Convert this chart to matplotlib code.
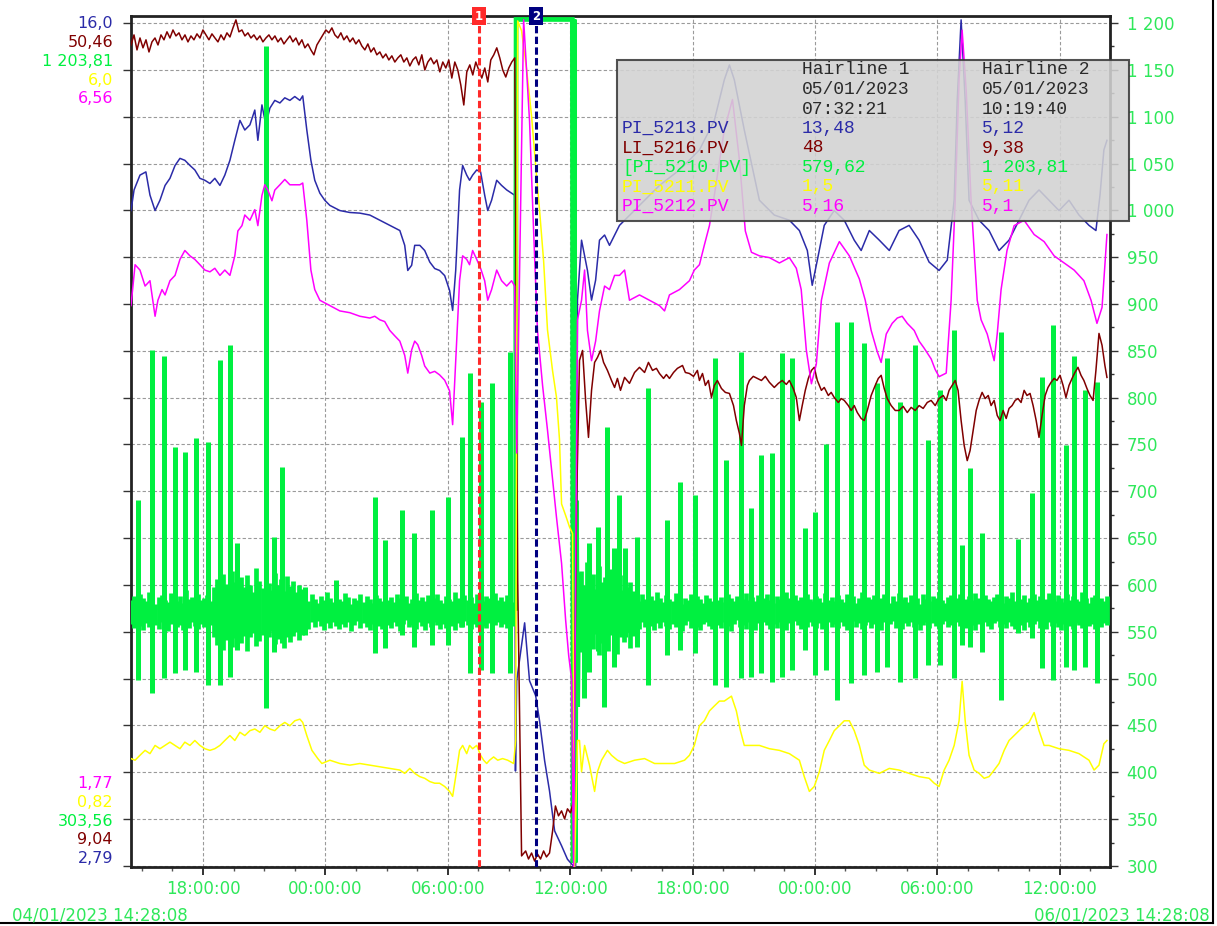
import numpy as np
import matplotlib
matplotlib.use("Agg")
import matplotlib.pyplot as plt
import matplotlib.dates as mdates
from matplotlib.ticker import MultipleLocator, FuncFormatter
from matplotlib.patches import Rectangle
from matplotlib.lines import Line2D
from datetime import datetime

# trend window 04/01/2023 14:28:08 -> 06/01/2023 14:28:08, times are hours from start
start = datetime(2023, 1, 4, 14, 28, 8)
span_h = 48.0
hair_h = [17.0703, 19.8592]          # 05/01/2023 07:32:21 and 10:19:40
hair_labels = ["1", "2"]

# pen scales (low, high)
blue_range = (2.79, 16.0)
red_range = (9.04, 50.46)
yellow_range = (0.82, 6.0)
magenta_range = (1.77, 6.56)
green_axis = (298.9, 1207.5)

# ---- PI_5213.PV
blue_h = [0.00, 0.15, 0.44, 0.73, 0.93, 1.18, 1.42, 1.67, 1.91, 2.16,
          2.40, 2.64, 2.89, 3.13, 3.38, 3.62, 3.87, 4.11, 4.36, 4.60,
          4.85, 5.09, 5.34, 5.58, 5.83, 6.07, 6.22, 6.42, 6.61, 6.81,
          7.05, 7.30, 7.54, 7.79, 8.03, 8.28, 8.42, 8.62, 8.82, 9.01,
          9.26, 9.50, 9.75, 10.24, 10.73, 11.22, 11.71, 12.20, 12.69, 13.18,
          13.42, 13.57, 13.76, 13.91, 14.16, 14.40, 14.65, 14.89, 15.13, 15.38,
          15.62, 15.77, 15.92, 16.11, 16.26, 16.46, 16.60, 16.75, 16.95, 17.14,
          17.34, 17.49, 17.68, 17.93, 18.17, 18.42, 18.80, 18.85, 18.91, 19.30,
          19.54, 19.84, 20.03, 20.28, 20.52, 20.77, 21.11, 21.40, 21.65, 21.80,
          21.89, 22.09, 22.38, 22.58, 22.78, 22.97, 23.22, 23.46, 23.71, 23.95,
          24.93, 25.91, 26.89, 27.87, 28.60, 29.09, 29.34, 29.58, 30.07, 30.81,
          31.54, 32.28, 32.77, 33.16, 33.40, 33.65, 33.99, 34.48, 34.97, 35.46,
          35.80, 36.20, 36.69, 37.18, 37.66, 38.15, 38.64, 39.13, 39.62, 40.02,
          40.36, 40.51, 40.70, 40.90, 41.09, 41.58, 42.07, 42.56, 43.05, 43.54,
          44.03, 44.52, 45.01, 45.50, 45.99, 46.48, 46.97, 47.31, 47.51, 47.70,
          47.85]
blue_v = [12.98, 13.30, 13.53, 13.58, 13.22, 12.98, 13.14, 13.37, 13.48, 13.68,
          13.79, 13.76, 13.68, 13.61, 13.48, 13.45, 13.40, 13.48, 13.37, 13.53,
          13.76, 14.07, 14.38, 14.23, 14.31, 14.54, 14.07, 14.62, 14.31, 14.57,
          14.69, 14.65, 14.73, 14.69, 14.75, 14.69, 14.76, 14.23, 13.76, 13.45,
          13.25, 13.14, 13.06, 12.98, 12.95, 12.94, 12.91, 12.83, 12.75, 12.67,
          12.44, 12.05, 12.13, 12.44, 12.44, 12.36, 12.18, 12.08, 12.05, 11.97,
          11.74, 11.43, 12.05, 13.30, 13.68, 13.53, 13.45, 13.53, 13.61, 13.58,
          13.22, 12.98, 13.14, 13.45, 13.37, 13.30, 13.22, 4.28, 5.68, 6.58,
          5.68, 5.45, 5.06, 4.44, 3.97, 3.35, 3.12, 2.91, 2.82, 2.79,
          11.59, 12.52, 12.05, 11.59, 11.90, 12.52, 12.60, 12.44, 12.60, 12.75,
          13.06, 13.37, 13.61, 13.92, 14.38, 15.01, 15.24, 15.01, 14.23, 13.14,
          12.91, 12.83, 12.67, 12.36, 11.82, 12.21, 12.75, 12.98, 12.83, 12.52,
          12.36, 12.67, 12.52, 12.36, 12.67, 12.75, 12.52, 12.18, 12.05, 12.21,
          13.14, 14.69, 15.94, 14.69, 13.14, 12.83, 12.67, 12.36, 12.52, 12.83,
          13.14, 13.30, 13.14, 12.98, 13.14, 12.91, 12.75, 12.67, 13.22, 13.92,
          14.07]

# ---- LI_5216.PV : first part logged every 0.147 h, then irregular
red_step = 0.147
red_a = [49.05, 49.54, 48.81, 49.39, 48.91, 49.30, 48.71, 49.20, 49.39, 49.05,
         49.54, 49.30, 49.69, 49.39, 49.78, 49.49, 49.64, 49.30, 49.54, 49.20,
         49.49, 49.30, 49.59, 49.39, 49.78, 49.54, 49.30, 49.59, 49.39, 49.20,
         49.54, 49.30, 49.64, 49.44, 49.88, 50.27, 49.69, 49.78, 49.49, 49.64,
         49.39, 49.54, 49.30, 49.49, 49.20, 49.39, 49.54, 49.30, 49.49, 49.20,
         49.39, 49.10, 49.30, 49.49, 49.20, 49.39, 49.05, 49.30, 48.91, 49.10,
         48.81, 48.57, 49.05, 49.30, 49.54, 49.78, 49.64, 49.88, 49.54, 49.39,
         49.64, 49.30, 49.49, 49.20, 49.39, 49.10, 49.30, 49.00, 48.81, 49.10,
         48.71, 48.91, 48.57, 48.71, 48.42, 48.61, 48.32, 48.52, 48.22, 48.42,
         48.57, 48.22, 48.42, 48.03, 48.32, 48.47, 48.08, 48.57, 47.83, 48.22,
         48.42, 48.13, 48.32, 47.74, 48.22, 47.93, 48.32, 47.44, 48.22, 47.83,
         47.10, 46.13, 47.74, 48.08, 47.59, 48.22, 47.83, 47.44, 47.93, 47.25,
         48.32, 48.57, 48.91, 48.42, 47.83, 47.49, 47.93, 48.22, 48.42]
red_b_h = [18.96, 19.15, 19.35, 19.49, 19.64, 19.79, 19.93, 20.08, 20.23, 20.37,
           20.52, 20.67, 20.81, 20.96, 21.11, 21.26, 21.40, 21.55, 21.70, 21.85,
           21.99, 22.14, 22.29, 22.43, 22.58, 22.73, 22.87, 23.02, 23.17, 23.36,
           23.56, 23.71, 23.85, 24.00, 24.20, 24.44, 24.69, 24.93, 25.18, 25.37,
           25.57, 25.76, 25.91, 26.11, 26.25, 26.40, 26.60, 26.79, 27.04, 27.18,
           27.38, 27.58, 27.77, 27.87, 28.02, 28.16, 28.31, 28.46, 28.60, 28.75,
           28.95, 29.14, 29.34, 29.54, 29.68, 29.83, 29.93, 30.07, 30.22, 30.32,
           30.51, 30.71, 30.91, 31.10, 31.30, 31.54, 31.74, 31.93, 32.13, 32.28,
           32.47, 32.62, 32.77, 32.91, 33.06, 33.21, 33.36, 33.50, 33.65, 33.85,
           33.99, 34.19, 34.33, 34.48, 34.68, 34.82, 34.97, 35.17, 35.31, 35.46,
           35.61, 35.80, 35.95, 36.10, 36.29, 36.49, 36.64, 36.78, 36.93, 37.08,
           37.27, 37.47, 37.66, 37.86, 38.06, 38.25, 38.45, 38.64, 38.84, 39.04,
           39.23, 39.43, 39.62, 39.82, 39.97, 40.11, 40.26, 40.41, 40.55, 40.70,
           40.85, 41.00, 41.14, 41.29, 41.44, 41.58, 41.73, 41.88, 42.03, 42.17,
           42.32, 42.47, 42.61, 42.76, 42.91, 43.05, 43.20, 43.35, 43.49, 43.64,
           43.79, 43.93, 44.08, 44.23, 44.38, 44.52, 44.67, 44.82, 44.96, 45.11,
           45.26, 45.40, 45.55, 45.70, 45.84, 45.99, 46.14, 46.28, 46.43, 46.58,
           46.72, 46.87, 47.02, 47.17, 47.31, 47.46, 47.61, 47.75, 47.85]
red_b_v = [22.98, 9.58, 9.82, 9.43, 9.72, 9.33, 9.67, 9.43, 9.82, 9.53,
           9.72, 10.79, 12.01, 11.53, 11.77, 11.38, 11.87, 11.67, 12.26, 26.88,
           33.70, 34.18, 31.75, 29.95, 32.24, 33.60, 33.84, 34.18, 33.60, 33.21,
           32.72, 32.38, 32.82, 32.24, 32.87, 32.58, 33.11, 33.36, 33.11, 33.60,
           33.21, 33.31, 33.06, 32.82, 33.01, 32.82, 33.11, 33.31, 33.45, 33.11,
           33.06, 32.92, 33.21, 32.72, 33.06, 32.48, 32.72, 31.89, 32.48, 32.72,
           32.33, 32.14, 32.09, 31.50, 30.77, 30.14, 29.56, 31.50, 32.48, 32.72,
           32.92, 32.82, 32.72, 32.92, 32.63, 32.38, 32.58, 32.72, 32.53, 32.72,
           32.33, 31.89, 30.77, 31.50, 32.24, 32.82, 33.21, 33.36, 32.72, 32.24,
           32.38, 31.99, 32.14, 31.89, 31.65, 31.84, 31.75, 31.50, 31.26, 31.50,
           31.16, 30.87, 30.77, 31.26, 31.99, 32.48, 32.82, 32.97, 32.33, 31.84,
           31.50, 31.26, 31.26, 31.46, 31.16, 31.41, 31.26, 31.50, 31.36, 31.65,
           31.75, 31.50, 31.84, 31.99, 31.75, 32.24, 32.48, 32.72, 32.24, 30.77,
           29.56, 28.82, 29.31, 30.29, 31.26, 31.75, 32.14, 31.84, 31.99, 31.50,
           31.75, 31.02, 30.77, 31.26, 30.87, 31.36, 31.50, 31.75, 31.84, 31.65,
           32.24, 31.99, 32.09, 31.50, 30.77, 29.95, 31.02, 31.99, 32.38, 32.63,
           32.82, 32.72, 32.97, 32.48, 31.89, 32.48, 32.82, 33.11, 33.36, 32.97,
           32.72, 32.33, 31.99, 31.75, 33.21, 35.01, 34.43, 33.45, 32.87]

# ---- [PI_5210.PV] : min / max of each 0.15 h interval, plus spikes
green_step = 0.15
green_a_t0 = 0.0
green_a_hi = [584, 588, 581, 590, 586, 583, 592, 585, 580, 587, 589, 584, 582, 591, 586, 583, 588, 581,
              595, 585, 587, 582, 590, 584, 586, 589, 583,
              598, 606, 592, 612, 601, 596, 615, 603, 594, 608, 598, 611, 600, 593, 618, 604, 597, 609,
              602, 595, 613, 600, 606, 594, 610, 599, 604, 592, 600, 596,
              587, 583, 590, 585, 581, 588, 584, 592, 586, 582, 589, 585, 583, 591, 587, 580, 586, 584,
              590, 582, 588, 585, 581, 589, 586, 583, 592, 584, 587, 582, 590, 586, 583, 588, 581, 585,
              591, 584, 587, 583, 589, 582, 586, 590, 584, 581, 588, 585, 583, 592, 586, 582, 589, 584,
              587, 581, 590, 585, 583, 588, 586, 582, 591, 584, 587, 583, 589, 585, 582]
green_a_lo = [558, 554, 561, 556, 552, 559, 555, 562, 557, 553, 560, 556, 551, 558, 563, 555, 557, 552,
              559, 554, 561, 556, 553, 558, 555, 560, 557,
              545, 536, 550, 531, 541, 548, 534, 543, 552, 538, 546, 530, 544, 549, 535, 540, 547, 532,
              545, 551, 537, 542, 548, 533, 544, 539, 546, 550, 541, 547,
              557, 553, 560, 555, 562, 556, 552, 559, 554, 561, 556, 553, 558, 555, 560, 551, 557, 562,
              554, 559, 555, 552, 558, 561, 556, 553, 559, 557, 554, 560, 556, 551, 558, 563, 555, 557,
              553, 560, 556, 552, 559, 555, 561, 557, 553, 558, 554, 560, 556, 552, 559, 555, 562, 557,
              553, 558, 555, 561, 556, 554, 559, 553, 557, 561, 555, 558, 554, 560, 556]
green_b_t0 = 22.05
green_b_hi = [615, 598, 625, 605, 612, 596, 620, 603, 608, 599, 617, 601, 606, 595, 611, 598, 603, 594,
              587, 583, 590, 585, 581, 588, 584, 592, 586, 582, 589, 585, 583, 591, 587, 580, 586, 584,
              590, 582, 588, 585, 581, 589, 586, 583, 592, 584, 587, 582, 590, 586, 583, 588, 581, 585,
              591, 584, 587, 583, 589, 582, 586, 590, 584, 581, 588, 585, 583, 592, 586, 582, 589, 584,
              587, 581, 590, 585, 583, 588, 586, 582, 591, 584, 587, 583, 589, 585, 582, 590, 584, 588,
              581, 586, 592, 583, 587, 585, 589, 582, 586, 590, 584, 581, 588, 583, 591, 585, 587, 582,
              589, 584, 586, 580, 590, 585, 583, 588, 586, 592, 584, 581, 587, 589, 583, 586, 590, 582,
              585, 588, 584, 591, 586, 582, 589, 585, 583, 587, 590, 584, 581, 588, 586, 592, 583, 587,
              585, 589, 582, 586, 590, 584, 588, 581, 585, 591, 587, 583, 589, 586, 582, 590, 584, 588,
              585, 583, 592, 586, 581, 587, 589, 584, 586, 583, 588]
green_b_lo = [528, 545, 520, 540, 532, 548, 525, 538, 543, 530, 547, 535, 526, 544, 539, 550, 533, 546,
              557, 553, 560, 555, 562, 556, 552, 559, 554, 561, 556, 553, 558, 555, 560, 551, 557, 562,
              554, 559, 555, 552, 558, 561, 556, 553, 559, 557, 554, 560, 556, 551, 558, 563, 555, 557,
              553, 560, 556, 552, 559, 555, 561, 557, 553, 558, 554, 560, 556, 552, 559, 555, 562, 557,
              553, 558, 555, 561, 556, 554, 559, 553, 557, 561, 555, 558, 554, 560, 556, 552, 558, 562,
              555, 559, 553, 557, 561, 554, 558, 556, 552, 560, 555, 558, 562, 554, 557, 553, 559, 556,
              561, 555, 558, 552, 557, 560, 554, 559, 556, 553, 558, 562, 555, 557, 553, 560, 556, 559,
              554, 561, 557, 552, 558, 555, 560, 556, 553, 559, 562, 555, 558, 554, 561, 556, 553, 559,
              557, 552, 560, 555, 558, 562, 554, 557, 553, 560, 556, 559, 555, 552, 558, 561, 556, 553,
              559, 557, 554, 560, 556, 558, 553, 561, 555, 559, 557]
block_h = [18.86, 18.88, 21.64, 21.68, 21.73, 21.78, 21.84, 21.90, 21.96]
block_v = [575, 1203.8, 1203.8, 303.6, 1203.8, 303.6, 690, 470, 610]
spike_h = [0.34, 1.03, 1.62, 2.16, 2.64, 3.18, 3.77, 4.36, 4.85, 5.19,
           6.61, 7.00, 7.40, 8.52, 10.04, 11.95, 12.44, 13.27, 13.86, 14.74,
           15.53, 16.21, 16.60, 17.14, 17.68, 18.56, 22.19, 22.48, 22.92, 23.17,
           23.36, 23.66, 23.95, 24.24, 24.83, 25.37, 26.30, 26.94, 27.67, 28.65,
           29.19, 29.93, 30.42, 30.91, 31.44, 31.93, 32.42, 33.06, 33.55, 34.09,
           34.63, 35.31, 35.95, 36.59, 37.08, 37.71, 38.45, 39.09, 39.67, 40.36,
           40.75, 41.14, 41.73, 42.66, 43.49, 44.18, 44.67, 45.21, 45.84, 46.24,
           46.78, 47.36]
spike_top = [691, 851, 845, 747, 742, 757, 753, 840, 856, 645,
             1176, 651, 726, 598, 605, 694, 648, 680, 656, 680,
             694, 758, 826, 795, 816, 849, 600, 645, 662, 590,
             769, 640, 696, 640, 651, 810, 669, 710, 696, 842,
             733, 849, 682, 739, 741, 848, 842, 661, 678, 751,
             881, 881, 858, 816, 842, 795, 856, 755, 808, 872,
             643, 725, 655, 870, 649, 698, 822, 878, 749, 844,
             808, 817]
spike_bot = [499, 485, 501, 506, 509, 507, 493, 493, 502, 531,
             469, 528, 538, 547, 563, 527, 533, 547, 534, 536,
             536, 555, 506, 509, 506, 506, 479, 507, 530, 470,
             540, 512, 549, 545, 534, 493, 525, 531, 527, 493,
             491, 501, 502, 506, 496, 502, 509, 531, 504, 509,
             477, 495, 504, 507, 512, 496, 501, 515, 515, 501,
             536, 534, 528, 477, 549, 543, 511, 499, 512, 509,
             512, 495]

# ---- PI_5211.PV
yel_h = [0.00, 0.20, 0.44, 0.69, 0.93, 1.18, 1.42, 1.67, 1.91, 2.16,
         2.40, 2.64, 2.89, 3.13, 3.38, 3.62, 3.87, 4.11, 4.36, 4.60,
         4.85, 5.09, 5.34, 5.58, 5.83, 6.07, 6.32, 6.56, 6.81, 7.05,
         7.30, 7.54, 7.79, 8.03, 8.28, 8.42, 8.62, 8.87, 9.16, 9.36,
         9.75, 10.24, 10.73, 11.22, 11.71, 12.20, 12.69, 13.18, 13.42, 13.67,
         13.91, 14.16, 14.40, 14.65, 14.89, 15.13, 15.38, 15.62, 15.77, 15.92,
         16.11, 16.26, 16.46, 16.60, 16.75, 16.95, 17.14, 17.29, 17.44, 17.58,
         17.78, 17.98, 18.22, 18.47, 18.76, 18.86, 18.96, 19.15, 19.40, 19.64,
         19.84, 20.03, 20.23, 20.42, 20.67, 20.86, 21.01, 21.11, 21.31, 21.50,
         21.65, 21.75, 21.89, 21.99, 22.09, 22.24, 22.48, 22.73, 22.87, 23.07,
         23.36, 23.56, 23.85, 24.20, 24.69, 25.18, 25.67, 26.16, 26.65, 27.14,
         27.38, 27.62, 27.87, 28.11, 28.36, 28.60, 28.85, 29.09, 29.44, 29.68,
         29.88, 30.07, 30.32, 30.81, 31.30, 31.79, 32.28, 32.77, 33.01, 33.26,
         33.50, 33.75, 33.99, 34.24, 34.48, 34.73, 34.97, 35.22, 35.46, 35.71,
         35.95, 36.20, 36.69, 37.18, 37.66, 38.15, 38.64, 39.13, 39.38, 39.62,
         39.87, 40.11, 40.36, 40.60, 40.75, 40.90, 41.09, 41.34, 41.58, 41.83,
         42.07, 42.32, 42.56, 42.81, 43.05, 43.54, 43.79, 44.03, 44.28, 44.52,
         44.77, 45.01, 45.50, 45.99, 46.48, 46.97, 47.22, 47.46, 47.70, 47.85]
yel_v = [1.48, 1.47, 1.50, 1.53, 1.51, 1.56, 1.54, 1.56, 1.58, 1.56,
         1.54, 1.58, 1.56, 1.59, 1.56, 1.54, 1.53, 1.54, 1.56, 1.59,
         1.62, 1.59, 1.64, 1.62, 1.65, 1.66, 1.64, 1.68, 1.66, 1.65,
         1.68, 1.70, 1.68, 1.71, 1.72, 1.70, 1.62, 1.53, 1.48, 1.45,
         1.47, 1.45, 1.44, 1.45, 1.44, 1.43, 1.42, 1.41, 1.39, 1.42,
         1.39, 1.37, 1.36, 1.34, 1.33, 1.33, 1.31, 1.28, 1.25, 1.37,
         1.53, 1.56, 1.51, 1.56, 1.54, 1.56, 1.50, 1.47, 1.45, 1.47,
         1.49, 1.47, 1.48, 1.47, 1.45, 1.59, 5.97, 5.91, 5.67, 5.39,
         5.09, 4.82, 4.51, 4.09, 3.84, 3.68, 3.42, 3.03, 2.96, 2.89,
         2.85, 0.82, 1.59, 1.59, 1.40, 1.56, 1.44, 1.28, 1.40, 1.47,
         1.53, 1.50, 1.47, 1.45, 1.47, 1.48, 1.45, 1.45, 1.45, 1.47,
         1.50, 1.56, 1.68, 1.71, 1.77, 1.80, 1.83, 1.83, 1.86, 1.77,
         1.65, 1.56, 1.56, 1.56, 1.54, 1.53, 1.51, 1.47, 1.37, 1.28,
         1.31, 1.40, 1.53, 1.59, 1.65, 1.68, 1.71, 1.71, 1.65, 1.56,
         1.44, 1.41, 1.39, 1.42, 1.41, 1.39, 1.37, 1.36, 1.33, 1.31,
         1.41, 1.47, 1.56, 1.71, 1.95, 1.71, 1.50, 1.41, 1.39, 1.36,
         1.37, 1.41, 1.45, 1.53, 1.59, 1.65, 1.68, 1.70, 1.76, 1.65,
         1.56, 1.56, 1.54, 1.53, 1.51, 1.47, 1.41, 1.44, 1.57, 1.59]

# ---- PI_5212.PV
mag_h = [0.00, 0.20, 0.44, 0.69, 0.93, 1.18, 1.32, 1.52, 1.67, 1.91,
         2.16, 2.40, 2.64, 2.89, 3.13, 3.38, 3.62, 3.87, 4.11, 4.36,
         4.60, 4.85, 5.09, 5.24, 5.44, 5.58, 5.83, 6.07, 6.22, 6.42,
         6.56, 6.71, 6.91, 7.05, 7.30, 7.54, 7.79, 8.03, 8.28, 8.42,
         8.62, 8.82, 9.01, 9.26, 9.75, 10.24, 10.73, 11.22, 11.71, 11.95,
         12.20, 12.44, 12.69, 12.93, 13.18, 13.42, 13.57, 13.76, 13.91, 14.06,
         14.25, 14.40, 14.65, 14.89, 15.13, 15.38, 15.62, 15.77, 15.92, 16.11,
         16.26, 16.46, 16.60, 16.75, 16.95, 17.14, 17.34, 17.49, 17.68, 17.93,
         18.17, 18.42, 18.66, 18.81, 18.91, 19.25, 19.54, 19.74, 19.93, 20.18,
         20.42, 20.67, 20.86, 21.11, 21.31, 21.46, 21.60, 21.70, 21.89, 22.09,
         22.24, 22.38, 22.58, 22.78, 22.97, 23.22, 23.46, 23.71, 23.95, 24.20,
         24.44, 24.93, 25.42, 25.91, 26.16, 26.40, 26.89, 27.38, 27.62, 27.87,
         28.11, 28.36, 28.60, 29.09, 29.49, 29.83, 30.12, 30.42, 30.81, 31.30,
         31.79, 32.28, 32.62, 32.86, 33.11, 33.36, 33.60, 33.85, 34.24, 34.73,
         35.22, 35.71, 36.00, 36.29, 36.59, 36.78, 37.03, 37.32, 37.57, 37.81,
         38.06, 38.40, 38.64, 38.89, 39.23, 39.43, 39.62, 39.97, 40.21, 40.41,
         40.60, 40.75, 40.95, 41.19, 41.49, 41.68, 41.98, 42.32, 42.47, 42.66,
         42.95, 43.30, 43.79, 44.28, 44.77, 45.26, 45.75, 46.24, 46.72, 47.07,
         47.36, 47.61, 47.75, 47.85]
mag_v = [4.93, 5.16, 5.13, 5.04, 5.07, 4.87, 4.96, 5.02, 4.99, 5.07,
         5.10, 5.19, 5.24, 5.21, 5.19, 5.16, 5.13, 5.12, 5.14, 5.10,
         5.13, 5.10, 5.21, 5.35, 5.38, 5.44, 5.41, 5.47, 5.38, 5.55,
         5.61, 5.58, 5.52, 5.58, 5.61, 5.64, 5.61, 5.61, 5.61, 5.62,
         5.41, 5.13, 5.02, 4.96, 4.93, 4.90, 4.89, 4.87, 4.86, 4.87,
         4.85, 4.84, 4.79, 4.76, 4.73, 4.65, 4.55, 4.68, 4.73, 4.71,
         4.65, 4.59, 4.55, 4.56, 4.54, 4.51, 4.45, 4.26, 4.62, 5.07,
         5.21, 5.19, 5.16, 5.24, 5.19, 5.14, 5.07, 4.96, 5.02, 5.13,
         5.07, 5.04, 5.07, 5.04, 4.10, 6.54, 5.97, 5.35, 4.79, 4.48,
         4.23, 3.95, 3.74, 3.48, 3.16, 2.96, 2.83, 1.77, 4.85, 4.96,
         5.13, 4.79, 4.62, 4.73, 4.90, 5.04, 5.02, 5.10, 5.10, 5.13,
         4.96, 4.99, 4.96, 4.93, 4.90, 4.99, 5.02, 5.07, 5.13, 5.16,
         5.27, 5.38, 5.55, 5.92, 6.09, 5.75, 5.35, 5.23, 5.21, 5.20,
         5.17, 5.20, 5.14, 5.02, 4.68, 4.49, 4.60, 4.96, 5.17, 5.29,
         5.21, 5.08, 4.96, 4.79, 4.67, 4.61, 4.77, 4.83, 4.86, 4.87,
         4.83, 4.79, 4.73, 4.69, 4.63, 4.57, 4.53, 4.55, 4.96, 5.52,
         6.20, 6.48, 6.14, 5.52, 4.96, 4.85, 4.77, 4.62, 4.77, 5.02,
         5.24, 5.38, 5.41, 5.33, 5.29, 5.21, 5.17, 5.13, 5.07, 4.96,
         4.83, 4.92, 5.16, 5.33]

# ---- hairline readout box
legend_rows = [
    ("", "Hairline 1", "Hairline 2"),
    ("", "05/01/2023", "05/01/2023"),
    ("", "07:32:21", "10:19:40"),
    ("PI_5213.PV", "13,48", "5,12"),
    ("LI_5216.PV", "48", "9,38"),
    ("[PI_5210.PV]", "579,62", "1 203,81"),
    ("PI_5211.PV", "1,5", "5,11"),
    ("PI_5212.PV", "5,16", "5,1"),
]
top_labels = ["16,0", "50,46", "1 203,81", "6,0", "6,56"]
bottom_labels = ["1,77", "0,82", "303,56", "9,04", "2,79"]
left_date = "04/01/2023 14:28:08"
right_date = "06/01/2023 14:28:08"

BLUE = "#2b2ba8"
DRED = "#800000"
GREEN = "#00f040"
YELLOW = "#ffff00"
MAGENTA = "#ff00ff"
GTXT = "#2ee85a"
HEAD = "#2a2a2a"
HAIR_COLORS = ["#ff2a2a", "#000080"]
row_colors = [HEAD, HEAD, HEAD, BLUE, DRED, GREEN, YELLOW, MAGENTA]
top_colors = [BLUE, DRED, GREEN, YELLOW, MAGENTA]
bottom_colors = [MAGENTA, YELLOW, GREEN, DRED, BLUE]

plt.rcParams["font.family"] = "DejaVu Sans"

t0 = mdates.date2num(start)


def xnum(hours):
    return t0 + np.asarray(hours, dtype=float) / 24.0


ga_h = [green_a_t0 + i * green_step for i in range(len(green_a_hi))]
gb_h = [green_b_t0 + i * green_step for i in range(len(green_b_hi))]
red_h = [i * red_step for i in range(len(red_a))] + red_b_h
red_v = red_a + red_b_v

W, H = 1217, 926
fig = plt.figure(figsize=(W / 100, H / 100), dpi=100)
L, R, T, B = 131, 1110, 16, 867
ax = fig.add_axes([L / W, 1 - B / H, (R - L) / W, (B - T) / H])
ax.set_xlim(xnum(0), xnum(span_h))
ax.set_ylim(*green_axis)


def pen_axes(rng):
    a = ax.twinx()
    a.set_ylim(*rng)
    a.set_xlim(xnum(0), xnum(span_h))
    a.set_axis_off()
    return a


# blue first, then the selected green pen, then the others on top
pen_axes(blue_range).plot(xnum(blue_h), blue_v, color=BLUE, lw=1.1)

gax = pen_axes(green_axis)
gax.vlines(xnum(ga_h), green_a_lo, green_a_hi, color=GREEN, lw=3.4)
gax.vlines(xnum(gb_h), green_b_lo, green_b_hi, color=GREEN, lw=3.4)
gax.vlines(xnum(spike_h), spike_bot, spike_top, color=GREEN, lw=3.6)
gax.plot(xnum(block_h), block_v, color=GREEN, lw=3.4, solid_joinstyle="miter")

pen_axes(red_range).plot(xnum(red_h), red_v, color=DRED, lw=1.1)
pen_axes(yellow_range).plot(xnum(yel_h), yel_v, color=YELLOW, lw=1.1)
tw = pen_axes(magenta_range)
tw.plot(xnum(mag_h), mag_v, color=MAGENTA, lw=1.1)

ax.xaxis.set_major_locator(MultipleLocator(0.25))
ax.xaxis.set_minor_locator(MultipleLocator(1 / 16))
ax.xaxis.set_major_formatter(mdates.DateFormatter("%H:%M:%S"))
ax.yaxis.set_major_locator(MultipleLocator(50))
ax.yaxis.set_minor_locator(MultipleLocator(25))
ax.yaxis.set_major_formatter(FuncFormatter(lambda v, p: f"{int(round(v)):,}".replace(",", " ")))
ax.yaxis.set_ticks_position("both")
ax.tick_params(axis="y", which="major", left=True, right=True, labelleft=False, labelright=True,
               length=6, width=1, colors="#333333", labelcolor=GTXT, labelsize=12, pad=6)
ax.tick_params(axis="y", which="minor", left=False, right=True, length=3, width=1, colors="#333333")
ax.tick_params(axis="x", which="major", length=6, width=1.3, colors="#222222",
               labelcolor=GTXT, labelsize=12, pad=3)
ax.tick_params(axis="x", which="minor", length=3, width=1, colors="#555555")
ax.grid(True, which="major", color="#9a9a9a", linestyle=(0, (3, 2)), linewidth=0.8)
for s in ax.spines.values():
    s.set_linewidth(2)
    s.set_color("#222222")

# hairlines with their numbered tags
for h, col, lab in zip(hair_h, HAIR_COLORS, hair_labels):
    tw.axvline(xnum(h), color=col, lw=2.2, dashes=(2.4, 1.1), zorder=10)
    tw.text(xnum(h), 1.0, lab, transform=tw.get_xaxis_transform(), ha="center", va="center",
            color="white", fontsize=8.5, fontweight="bold", clip_on=False, zorder=11,
            bbox=dict(boxstyle="square,pad=0.25", fc=col, ec="none"))

# readout box
bx0, by0, bx1, by1 = 617, 60, 1129, 221
fig.add_artist(Rectangle((bx0 / W, 1 - by1 / H), (bx1 - bx0) / W, (by1 - by0) / H,
                         transform=fig.transFigure, facecolor="#d2d2d2", alpha=0.88,
                         edgecolor="#3a3a3a", linewidth=1.5, zorder=5))
col_x = [622, 802, 982]
for i, (row, c) in enumerate(zip(legend_rows, row_colors)):
    y = 70 + i * 19.5
    for j, txt in enumerate(row):
        if txt:
            fig.text(col_x[j] / W, 1 - y / H, txt, color=c, family="Liberation Mono",
                     fontsize=13, ha="left", va="center", zorder=6)

# pen scale limits on the left
for i, (txt, c) in enumerate(zip(top_labels, top_colors)):
    fig.text(113 / W, 1 - (24 + i * 18.7) / H, txt, color=c, fontsize=11.5, ha="right", va="center")
for i, (txt, c) in enumerate(zip(bottom_labels, bottom_colors)):
    fig.text(113 / W, 1 - (784 + i * 18.6) / H, txt, color=c, fontsize=11.5, ha="right", va="center")

fig.text(12 / W, 1 - 915 / H, left_date, color=GTXT, fontsize=12, ha="left", va="center")
fig.text(1210 / W, 1 - 915 / H, right_date, color=GTXT, fontsize=12, ha="right", va="center")

# window frame on the right and bottom
fig.add_artist(Line2D([1213 / W, 1213 / W], [1 - 923 / H, 1], transform=fig.transFigure,
                      color="black", lw=1.5))
fig.add_artist(Line2D([0, 1213 / W], [1 - 923 / H, 1 - 923 / H], transform=fig.transFigure,
                      color="black", lw=1.5))

fig.savefig("out.png", dpi=100)
